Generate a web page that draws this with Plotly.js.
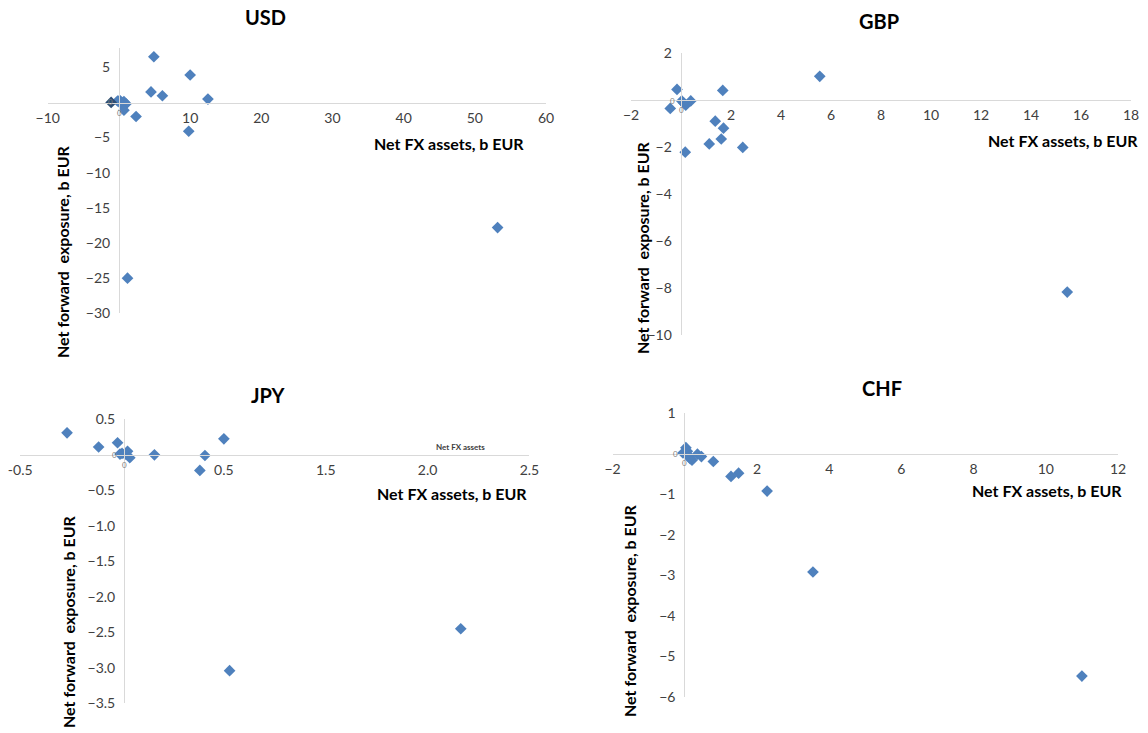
<!DOCTYPE html>
<html>
<head>
<meta charset="utf-8">
<script src="https://cdn.plot.ly/plotly-3.0.1.min.js"></script>
<style>html,body{margin:0;padding:0;background:#fff;}#chart{width:1148px;height:733px;}</style>
</head>
<body>
<div id="chart"></div>
<script>
// ---- Data ----
const panelTitles = ['USD', 'GBP', 'JPY', 'CHF'];
const xTitle = 'Net FX assets, b EUR';
const yTitle = 'Net forward  exposure, b EUR';

const usdX = [-0.2, 0.1, 0.4, 0.7, 1.0, 0.3, 0.7, 2.4, 4.5, 6.1, 12.5, 4.9, 10.0, 9.8, 1.2, 53.2];
const usdY = [0.2, 0.3, 0.0, 0.1, -0.2, -0.2, -1.1, -2.0, 1.5, 0.95, 0.47, 6.5, 3.9, -4.1, -25.0, -17.8];
const usdDarkX = [-1.1];
const usdDarkY = [0.0];

const gbpX = [-0.16, 1.67, -0.43, 0.03, 0.10, 0.19, 0.39, 1.37, 1.70, 1.61, 1.13, 2.47, 0.17, 5.55, 15.45];
const gbpY = [0.46, 0.42, -0.35, -0.03, -0.11, -0.21, -0.03, -0.89, -1.19, -1.65, -1.86, -2.01, -2.21, 1.02, -8.17];

const jpyX = [-0.27, -0.115, -0.022, -0.01, 0.0, 0.015, 0.027, 0.038, 0.159, 0.407, 0.382, 0.50, 0.528, 1.663];
const jpyY = [0.31, 0.11, 0.17, 0.01, 0.02, 0.01, 0.05, -0.04, 0.0, -0.01, -0.22, 0.225, -3.04, -2.45];

const chfX = [0.03, -0.05, 0.07, 0.12, 0.20, 0.15, 0.35, 0.46, 0.79, 1.28, 1.49, 2.28, 3.55, 11.0];
const chfY = [0.15, 0.02, 0.06, -0.06, -0.16, -0.12, -0.01, -0.07, -0.19, -0.56, -0.48, -0.92, -2.92, -5.49];

// tick labels
const usdXTicks = [-10, 10, 20, 30, 40, 50, 60];
const usdYTicks = [-30, -25, -20, -15, -10, -5, 5];
const gbpXTicks = [-2, 2, 4, 6, 8, 10, 12, 14, 16, 18];
const gbpYTicks = [-10, -8, -6, -4, -2, 2];
const jpyXTicks = [-0.5, 0.5, 1.0, 1.5, 2.0];
const jpyXTickText = ['-0.5', '0.5', '1.5', '2.0', '2.5'];
const jpyYTicks = [-3.5, -3.0, -2.5, -2.0, -1.5, -1.0, -0.5, 0.5];
const chfXTicks = [-2, 2, 4, 6, 8, 10, 12];
const chfYTicks = [-6, -5, -4, -3, -2, -1, 1];

// ---- Layout helpers ----
const W = 1148, H = 733;
const fx = p => p / W;
const fy = p => 1 - p / H;
const BLUE = '#4f81bd';
const FONT = 'Lato, "Open Sans", sans-serif';

function marker(color) {
  return {symbol: 'diamond', size: 9, color: color, line: {width: 0}};
}

const traces = [
  {x: usdX, y: usdY, xaxis: 'x', yaxis: 'y', mode: 'markers', type: 'scatter', marker: marker(BLUE)},
  {x: usdDarkX, y: usdDarkY, xaxis: 'x', yaxis: 'y', mode: 'markers', type: 'scatter', marker: marker('#2c4d75')},
  {x: gbpX, y: gbpY, xaxis: 'x2', yaxis: 'y2', mode: 'markers', type: 'scatter', marker: marker(BLUE)},
  {x: jpyX, y: jpyY, xaxis: 'x3', yaxis: 'y3', mode: 'markers', type: 'scatter', marker: marker(BLUE)},
  {x: chfX, y: chfY, xaxis: 'x4', yaxis: 'y4', mode: 'markers', type: 'scatter', marker: marker(BLUE)}
];

const tickFont = {family: FONT, size: 14, color: '#404040'};
function xAx(domPx, range, ticks, text, posPy) {
  const a = {domain: [fx(domPx[0]), fx(domPx[1])], range: range, tickmode: 'array', tickvals: ticks,
    showgrid: false, zeroline: false, showline: true, linecolor: '#d9d9d9', linewidth: 1,
    ticks: '', tickfont: tickFont, anchor: 'free', position: fy(posPy), ticklabelstandoff: 2,
    fixedrange: true};
  if (text) a.ticktext = text;
  return a;
}
function yAx(domPy, range, ticks, posPx, fmt) {
  const a = {domain: [fy(domPy[1]), fy(domPy[0])], range: range, tickmode: 'array', tickvals: ticks,
    showgrid: false, zeroline: false, showline: true, linecolor: '#d9d9d9', linewidth: 1,
    ticks: '', tickfont: tickFont, anchor: 'free', position: fx(posPx), ticklabelstandoff: 6,
    fixedrange: true};
  if (fmt) a.tickformat = fmt;
  return a;
}

const layout = {
  width: W, height: H,
  margin: {l: 0, r: 0, t: 0, b: 0},
  paper_bgcolor: '#ffffff', plot_bgcolor: 'rgba(0,0,0,0)',
  showlegend: false,
  font: {family: FONT},
  xaxis: xAx([47.8, 546], [-10, 60], usdXTicks, null, 102.7),
  yaxis: yAx([48.3, 313.3], [-30, 7.7], usdYTicks, 119),
  xaxis2: xAx([631, 1131], [-2, 18], gbpXTicks, null, 100.3),
  yaxis2: yAx([53.3, 335], [-10, 2], gbpYTicks, 680.6),
  xaxis3: xAx([20.2, 529.4], [-0.5, 2.0], jpyXTicks, jpyXTickText, 454.8),
  yaxis3: yAx([419.3, 703.3], [-3.5, 0.5], jpyYTicks, 124, '.1f'),
  xaxis4: xAx([612.6, 1118], [-2, 12], chfXTicks, null, 453.8),
  yaxis4: yAx([413.3, 696.7], [-6, 1], chfYTicks, 684.3),
  annotations: []
};

function ann(text, px, py, size, opts) {
  layout.annotations.push(Object.assign({text: text, xref: 'paper', yref: 'paper', x: fx(px), y: fy(py),
    xanchor: 'center', yanchor: 'middle', showarrow: false,
    font: {family: FONT, size: size, color: '#000000'}}, opts || {}));
}

// panel titles
const titlePos = [[265, 17], [879, 21], [268, 395], [882, 388]];
panelTitles.forEach((t, i) => ann('<b>' + t + '</b>', titlePos[i][0], titlePos[i][1], 20));

// x-axis titles (right aligned)
const xTitlePos = [[526, 143], [1140, 140], [529, 493], [1124, 490]];
xTitlePos.forEach(p => ann('<b>' + xTitle + '</b>', p[0], p[1], 16, {xanchor: 'right'}));

// y-axis titles (rotated)
const yTitlePos = [[62, 252], [642, 248], [68, 622], [629, 611]];
yTitlePos.forEach(p => ann('<b>' + yTitle + '</b>', p[0], p[1], 16, {textangle: -90}));

// small "0" labels near the origins
const zeroPos = [[119.5, 112.5], [110.5, 102.5], [672.5, 101], [681, 110.5], [114.7, 455], [124, 465], [675, 454], [684.3, 463]];
zeroPos.forEach(p => ann('0', p[0], p[1], 8, {font: {family: FONT, size: 8, color: '#7f7f7f'}}));

// stray small label in the JPY panel
ann('<b>Net FX assets</b>', 460, 447, 8, {font: {family: FONT, size: 8, color: '#404040'}});

Plotly.newPlot('chart', traces, layout, {displayModeBar: false, staticPlot: true});
</script>
</body>
</html>
